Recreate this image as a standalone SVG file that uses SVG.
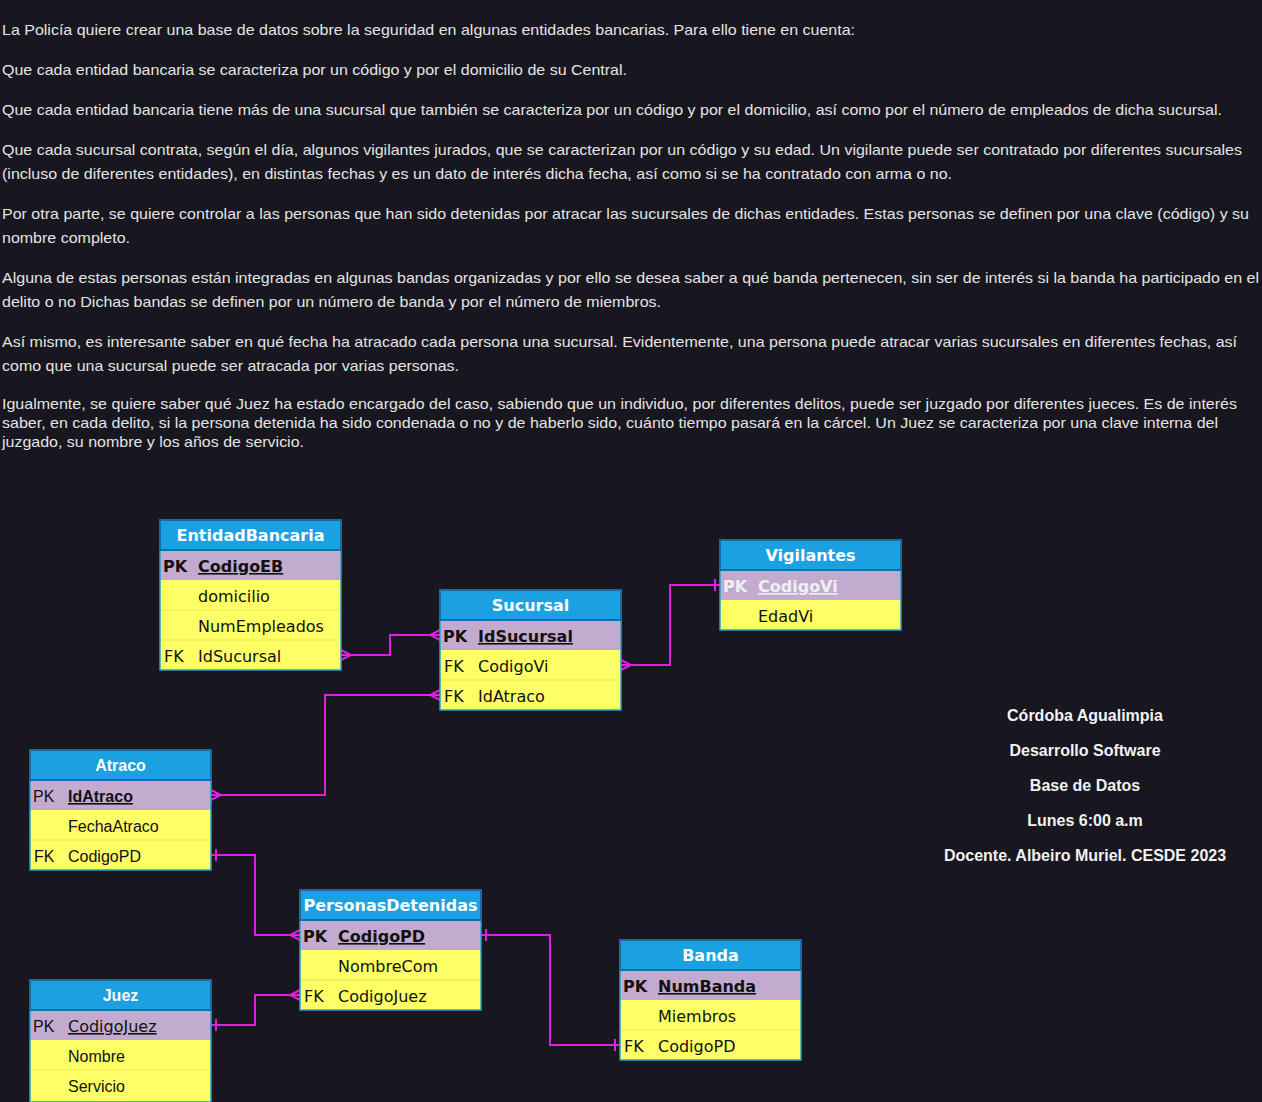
<svg xmlns="http://www.w3.org/2000/svg" width="1262" height="1102" viewBox="0 0 1262 1102">
<defs>
<style>
.bg{fill:#18161e}
.p{font-family:"Liberation Sans",Arial,sans-serif;font-size:15px;fill:#e4e4e4}
.cr{font-family:"Liberation Sans",Arial,sans-serif;font-size:16px;font-weight:bold;fill:#f2f2f2;text-anchor:middle}
.hd{fill:#1ba1e2;stroke:#0d6fae;stroke-width:2}
.pk{fill:#c3abd0}
.row{fill:#ffff66}
.sep{stroke:#e8e85a;stroke-width:1}
.box{fill:none;stroke:#2b9fc9;stroke-width:1.5}
.v{font-family:"DejaVu Sans",Verdana,sans-serif;font-size:16px;fill:#111}
.a{font-family:"Liberation Sans",Arial,sans-serif;font-size:16px;fill:#111}
.ht{fill:#fff;font-weight:bold;text-anchor:middle}
.b{font-weight:bold}
.u{text-decoration:underline}
.lt{fill:#f0f0f0}
.c{fill:none;stroke:#e020e0;stroke-width:2}
</style>
<marker id="many" viewBox="-12 -7 14 14" refX="0" refY="0" markerWidth="14" markerHeight="14" markerUnits="userSpaceOnUse" orient="auto-start-reverse">
<path d="M0,-5 L-10,0 L0,5" fill="none" stroke="#e020e0" stroke-width="2"/>
</marker>
<marker id="one" viewBox="-12 -7 14 14" refX="0" refY="0" markerWidth="14" markerHeight="14" markerUnits="userSpaceOnUse" orient="auto-start-reverse">
<path d="M-5,-6 L-5,6" fill="none" stroke="#e020e0" stroke-width="2"/>
</marker>
</defs>
<rect class="bg" x="0" y="0" width="1262" height="1102"/>

<g id="enunciado">
<text class="p" x="2" y="35" textLength="853" lengthAdjust="spacingAndGlyphs">La Policía quiere crear una base de datos sobre la seguridad en algunas entidades bancarias. Para ello tiene en cuenta:</text>
<text class="p" x="2" y="75" textLength="625" lengthAdjust="spacingAndGlyphs">Que cada entidad bancaria se caracteriza por un código y por el domicilio de su Central.</text>
<text class="p" x="2" y="115" textLength="1220" lengthAdjust="spacingAndGlyphs">Que cada entidad bancaria tiene más de una sucursal que también se caracteriza por un código y por el domicilio, así como por el número de empleados de dicha sucursal.</text>
<text class="p" x="2" y="155" textLength="1240" lengthAdjust="spacingAndGlyphs">Que cada sucursal contrata, según el día, algunos vigilantes jurados, que se caracterizan por un código y su edad. Un vigilante puede ser contratado por diferentes sucursales</text>
<text class="p" x="2" y="179" textLength="950" lengthAdjust="spacingAndGlyphs">(incluso de diferentes entidades), en distintas fechas y es un dato de interés dicha fecha, así como si se ha contratado con arma o no.</text>
<text class="p" x="2" y="219" textLength="1247" lengthAdjust="spacingAndGlyphs">Por otra parte, se quiere controlar a las personas que han sido detenidas por atracar las sucursales de dichas entidades. Estas personas se definen por una clave (código) y su</text>
<text class="p" x="2" y="243" textLength="128" lengthAdjust="spacingAndGlyphs">nombre completo.</text>
<text class="p" x="2" y="283" textLength="1257" lengthAdjust="spacingAndGlyphs">Alguna de estas personas están integradas en algunas bandas organizadas y por ello se desea saber a qué banda pertenecen, sin ser de interés si la banda ha participado en el</text>
<text class="p" x="2" y="307" textLength="659" lengthAdjust="spacingAndGlyphs">delito o no Dichas bandas se definen por un número de banda y por el número de miembros.</text>
<text class="p" x="2" y="347" textLength="1235" lengthAdjust="spacingAndGlyphs">Así mismo, es interesante saber en qué fecha ha atracado cada persona una sucursal. Evidentemente, una persona puede atracar varias sucursales en diferentes fechas, así</text>
<text class="p" x="2" y="371" textLength="457" lengthAdjust="spacingAndGlyphs">como que una sucursal puede ser atracada por varias personas.</text>
<text class="p" x="2" y="409" textLength="1235" lengthAdjust="spacingAndGlyphs">Igualmente, se quiere saber qué Juez ha estado encargado del caso, sabiendo que un individuo, por diferentes delitos, puede ser juzgado por diferentes jueces. Es de interés</text>
<text class="p" x="2" y="428" textLength="1216" lengthAdjust="spacingAndGlyphs">saber, en cada delito, si la persona detenida ha sido condenada o no y de haberlo sido, cuánto tiempo pasará en la cárcel. Un Juez se caracteriza por una clave interna del</text>
<text class="p" x="2" y="447" textLength="302" lengthAdjust="spacingAndGlyphs">juzgado, su nombre y los años de servicio.</text>
</g>

<g id="creditos">
<text class="cr" x="1085" y="721">Córdoba Agualimpia</text>
<text class="cr" x="1085" y="756">Desarrollo Software</text>
<text class="cr" x="1085" y="791">Base de Datos</text>
<text class="cr" x="1085" y="826">Lunes 6:00 a.m</text>
<text class="cr" x="1085" y="861">Docente. Albeiro Muriel. CESDE 2023</text>
</g>

<g id="connectors">
<path class="c" d="M341,655 H390 V635 H440" marker-start="url(#many)" marker-end="url(#many)"/>
<path class="c" d="M621,665 H670 V585 H720" marker-start="url(#many)" marker-end="url(#one)"/>
<path class="c" d="M211,795 H325 V695 H440" marker-start="url(#many)" marker-end="url(#many)"/>
<path class="c" d="M211,855 H255 V935 H300" marker-start="url(#one)" marker-end="url(#many)"/>
<path class="c" d="M211,1025 H255 V995 H300" marker-start="url(#one)" marker-end="url(#many)"/>
<path class="c" d="M481,935 H550 V1045 H620" marker-start="url(#one)" marker-end="url(#one)"/>
</g>

<g id="EntidadBancaria" transform="translate(160,520)">
<rect class="pk" x="0" y="30" width="181" height="30"/>
<rect class="row" x="0" y="60" width="181" height="90"/>
<line class="sep" x1="1" y1="90" x2="180" y2="90"/><line class="sep" x1="1" y1="120" x2="180" y2="120"/>
<rect class="box" x="0" y="30" width="181" height="120"/>
<rect class="hd" x="0" y="0" width="181" height="30"/>
<text class="v ht" x="90.5" y="21">EntidadBancaria</text>
<text class="v b" x="3" y="52">PK</text><text class="v b u" x="38" y="52">CodigoEB</text>
<text class="v" x="38" y="82">domicilio</text>
<text class="v" x="38" y="112">NumEmpleados</text>
<text class="v" x="4" y="142">FK</text><text class="v" x="38" y="142">IdSucursal</text>
</g>

<g id="Sucursal" transform="translate(440,590)">
<rect class="pk" x="0" y="30" width="181" height="30"/>
<rect class="row" x="0" y="60" width="181" height="60"/>
<line class="sep" x1="1" y1="90" x2="180" y2="90"/>
<rect class="box" x="0" y="30" width="181" height="90"/>
<rect class="hd" x="0" y="0" width="181" height="30"/>
<text class="v ht" x="90.5" y="21">Sucursal</text>
<text class="v b" x="3" y="52">PK</text><text class="v b u" x="38" y="52">IdSucursal</text>
<text class="v" x="4" y="82">FK</text><text class="v" x="38" y="82">CodigoVi</text>
<text class="v" x="4" y="112">FK</text><text class="v" x="38" y="112">IdAtraco</text>
</g>

<g id="Vigilantes" transform="translate(720,540)">
<rect class="pk" x="0" y="30" width="181" height="30"/>
<rect class="row" x="0" y="60" width="181" height="30"/>
<rect class="box" x="0" y="30" width="181" height="60"/>
<rect class="hd" x="0" y="0" width="181" height="30"/>
<text class="v ht" x="90.5" y="21">Vigilantes</text>
<text class="v b lt" x="3" y="52">PK</text><text class="v b u lt" x="38" y="52">CodigoVi</text>
<text class="v" x="38" y="82">EdadVi</text>
</g>

<g id="Atraco" transform="translate(30,750)">
<rect class="pk" x="0" y="30" width="181" height="30"/>
<rect class="row" x="0" y="60" width="181" height="60"/>
<line class="sep" x1="1" y1="90" x2="180" y2="90"/>
<rect class="box" x="0" y="30" width="181" height="90"/>
<rect class="hd" x="0" y="0" width="181" height="30"/>
<text class="a ht" x="90.5" y="21">Atraco</text>
<text class="a" x="3" y="52">PK</text><text class="a u" x="38" y="52" style="font-weight:600">IdAtraco</text>
<text class="a" x="38" y="82">FechaAtraco</text>
<text class="a" x="4" y="112">FK</text><text class="a" x="38" y="112">CodigoPD</text>
</g>

<g id="PersonasDetenidas" transform="translate(300,890)">
<rect class="pk" x="0" y="30" width="181" height="30"/>
<rect class="row" x="0" y="60" width="181" height="60"/>
<line class="sep" x1="1" y1="90" x2="180" y2="90"/>
<rect class="box" x="0" y="30" width="181" height="90"/>
<rect class="hd" x="0" y="0" width="181" height="30"/>
<text class="v ht" x="90.5" y="21">PersonasDetenidas</text>
<text class="v b" x="3" y="52">PK</text><text class="v b u" x="38" y="52">CodigoPD</text>
<text class="v" x="38" y="82">NombreCom</text>
<text class="v" x="4" y="112">FK</text><text class="v" x="38" y="112">CodigoJuez</text>
</g>

<g id="Juez" transform="translate(30,980)">
<rect class="pk" x="0" y="30" width="181" height="30"/>
<rect class="row" x="0" y="60" width="181" height="62"/>
<line class="sep" x1="1" y1="90" x2="180" y2="90"/>
<rect class="box" x="0" y="30" width="181" height="92"/>
<rect class="hd" x="0" y="0" width="181" height="30"/>
<text class="a ht" x="90.5" y="21">Juez</text>
<text class="a" x="3" y="52">PK</text><text class="v u" x="38" y="52">CodigoJuez</text>
<text class="a" x="38" y="82">Nombre</text>
<text class="a" x="38" y="112">Servicio</text>
</g>

<g id="Banda" transform="translate(620,940)">
<rect class="pk" x="0" y="30" width="181" height="30"/>
<rect class="row" x="0" y="60" width="181" height="60"/>
<line class="sep" x1="1" y1="90" x2="180" y2="90"/>
<rect class="box" x="0" y="30" width="181" height="90"/>
<rect class="hd" x="0" y="0" width="181" height="30"/>
<text class="v ht" x="90.5" y="21">Banda</text>
<text class="v b" x="3" y="52">PK</text><text class="v b u" x="38" y="52">NumBanda</text>
<text class="v" x="38" y="82">Miembros</text>
<text class="v" x="4" y="112">FK</text><text class="v" x="38" y="112">CodigoPD</text>
</g>
</svg>
